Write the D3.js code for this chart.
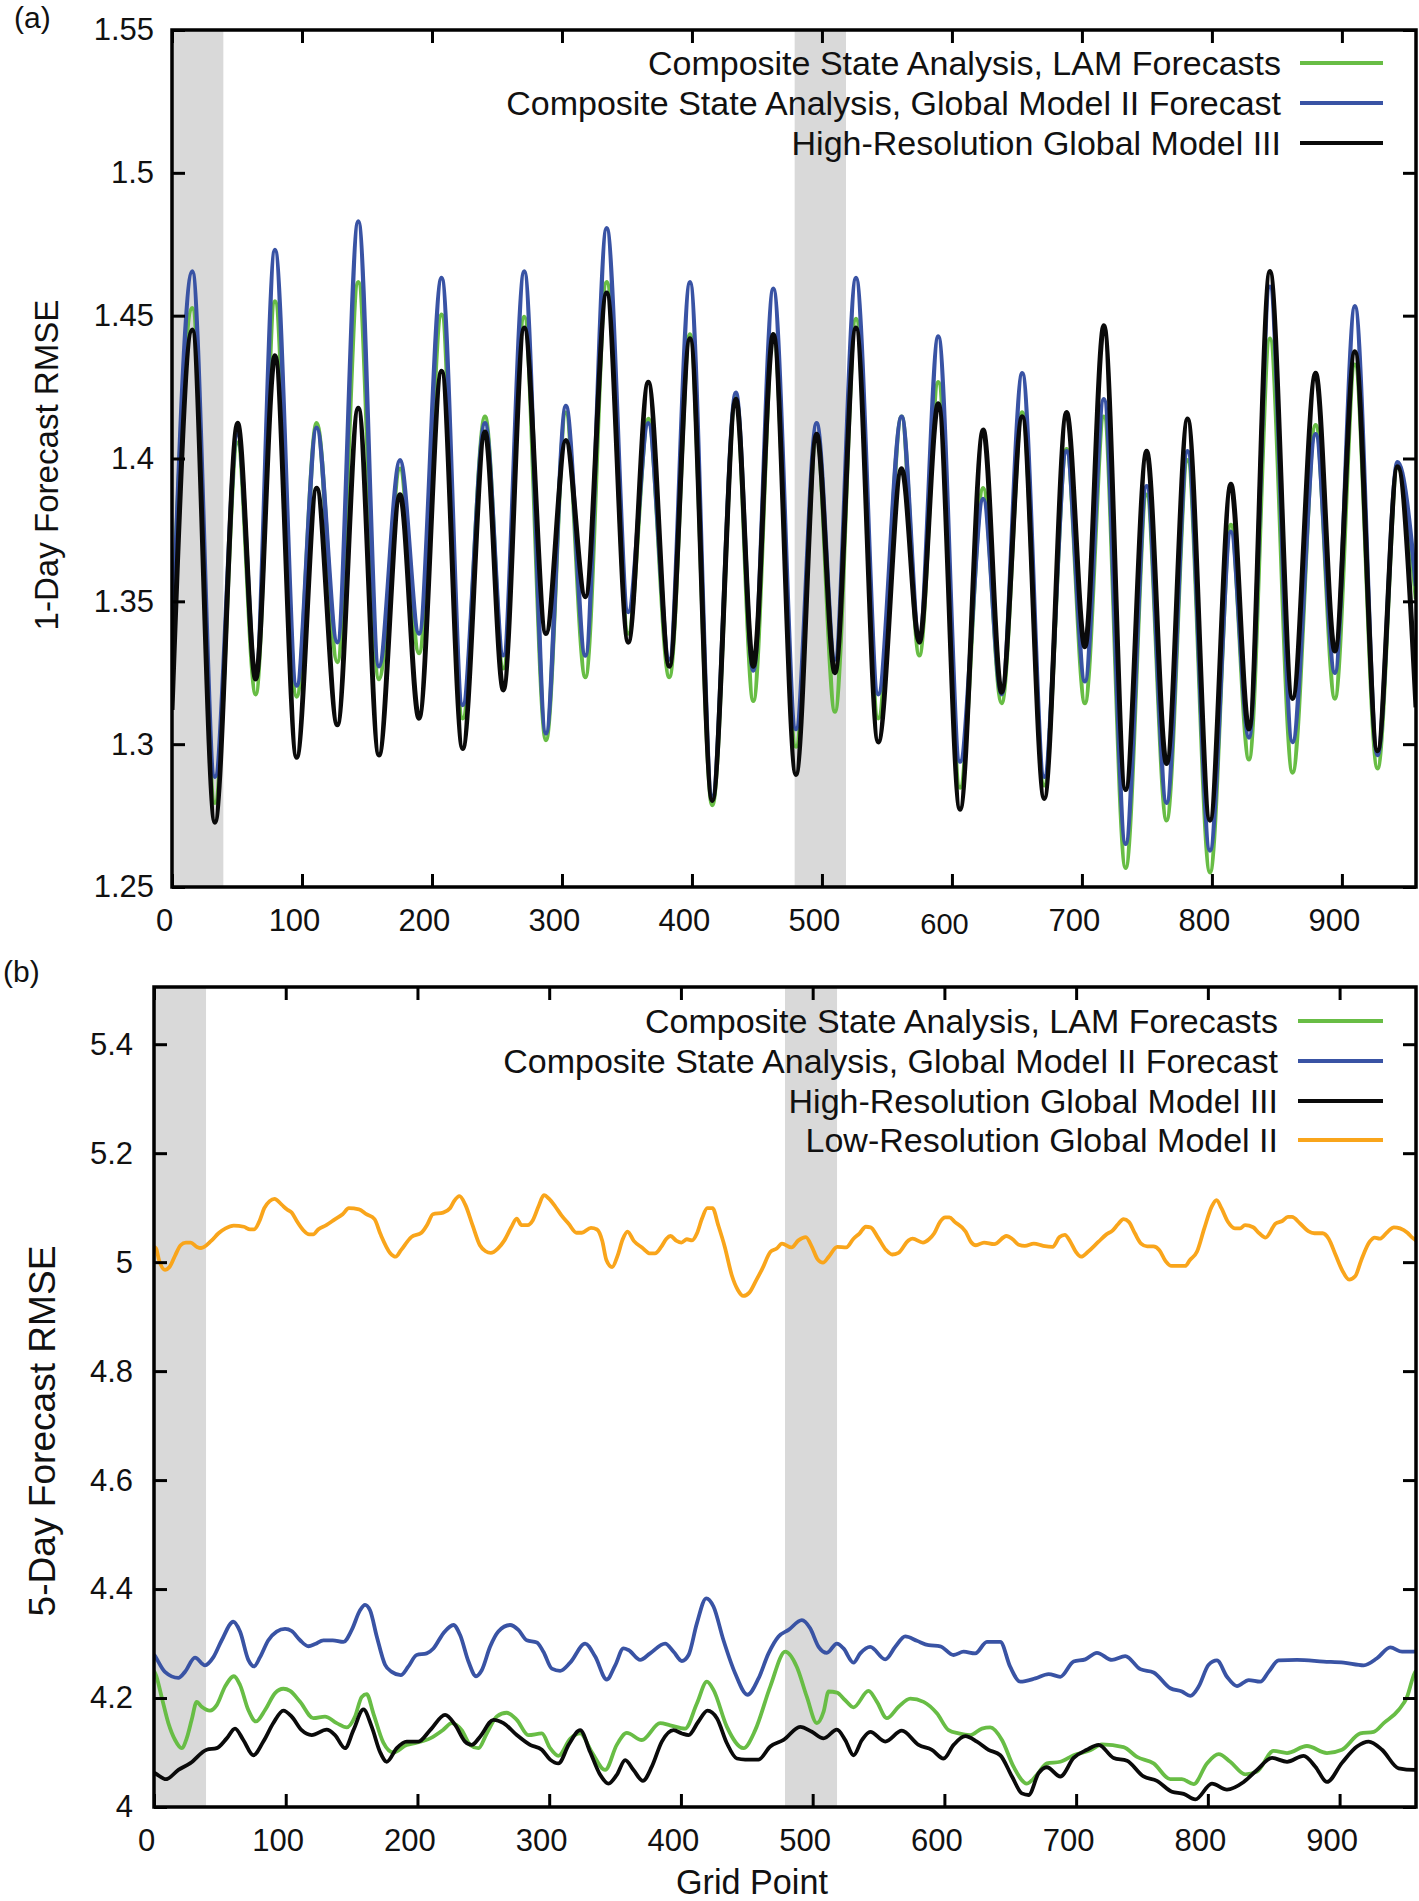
<!DOCTYPE html>
<html><head><meta charset="utf-8">
<script src="https://cdn.jsdelivr.net/npm/d3@7"></script>
<style>
body{margin:0;background:#fff}
svg{display:block}
text{font-family:"Liberation Sans",Arial,Helvetica,sans-serif;fill:#111}
</style>
</head><body>
<svg id="chart" width="1419" height="1901"></svg>
<script>
// ---------------- DATA ----------------
const seriesNamesA = ["Composite State Analysis, LAM Forecasts","Composite State Analysis, Global Model II Forecast","High-Resolution Global Model III"];
const seriesNamesB = ["Composite State Analysis, LAM Forecasts","Composite State Analysis, Global Model II Forecast","High-Resolution Global Model III","Low-Resolution Global Model II"];
const xTicks = [0,100,200,300,400,500,600,700,800,900];
const yTicksA = [1.25,1.3,1.35,1.4,1.45,1.5,1.55];
const yTicksB = [4,4.2,4.4,4.6,4.8,5,5.2,5.4];
const shadedBands = [[0,39.5],[479,518.5]];

// Panel (a): grid point of each turning point, and values of the three series there
const topX   = [0,15.6,33,50.5,64.4,79.2,95.9,111.3,127.2,143.3,159.2,175.4,190,207.4,223.6,240.8,254.9,271,287.7,303,318,334.4,351,366.4,382.6,398.5,415.6,433.8,447.2,462.6,480,495.9,510,526.2,543.3,561.3,574.9,589.5,606.2,624.1,638.2,654.1,671,688.2,702.3,716.9,733.6,749.8,765.1,781.3,798.5,814.6,828.5,844.6,862,879.8,894.6,910,927.4,942.8,957];
const topLAM = [1.335,1.4526,1.2795,1.4055,1.3175,1.455,1.3167,1.4123,1.3288,1.4617,1.3228,1.3964,1.3319,1.4503,1.3091,1.4146,1.3266,1.4495,1.3015,1.416,1.3235,1.4617,1.3387,1.4138,1.3235,1.4434,1.2787,1.4214,1.3152,1.4434,1.2992,1.4078,1.3114,1.4488,1.3091,1.4146,1.3311,1.4267,1.2848,1.3896,1.3144,1.4161,1.2856,1.4032,1.3144,1.4146,1.2567,1.3873,1.2734,1.3994,1.2552,1.3767,1.2947,1.4419,1.2901,1.4116,1.316,1.4328,1.2916,1.397,1.3508];
const topGM2 = [1.33,1.4655,1.2886,1.4085,1.325,1.473,1.3205,1.4108,1.3357,1.483,1.3273,1.3994,1.3387,1.4632,1.3137,1.4123,1.3311,1.4655,1.3038,1.4184,1.331,1.4806,1.3463,1.4123,1.3296,1.4617,1.2818,1.423,1.3258,1.4594,1.3053,1.4123,1.3296,1.4632,1.3175,1.4146,1.3372,1.4427,1.2939,1.3858,1.3175,1.4298,1.2886,1.4025,1.322,1.4207,1.2651,1.3903,1.2795,1.4025,1.2628,1.3744,1.3023,1.4601,1.3008,1.4085,1.325,1.4533,1.2962,1.3987,1.3554];
const topHR3 = [1.312,1.445,1.2727,1.4123,1.3228,1.436,1.2954,1.3896,1.3068,1.4176,1.2962,1.3873,1.3091,1.4305,1.2985,1.4093,1.319,1.4457,1.3387,1.4063,1.3516,1.4579,1.3357,1.4267,1.3273,1.4419,1.2803,1.4207,1.3273,1.4434,1.2894,1.4085,1.325,1.4457,1.3008,1.3964,1.3357,1.4192,1.2772,1.41,1.3182,1.4146,1.281,1.4161,1.3341,1.4465,1.2841,1.4025,1.2932,1.4138,1.2734,1.391,1.3053,1.4655,1.316,1.4298,1.3326,1.4374,1.2977,1.3971,1.3129];

// Panel (b): [grid point, RMSE]
const botLAM = [[0,4.25],[1.5,4.242],[5.8,4.202],[10.9,4.154],[16,4.123],[21,4.108],[24.8,4.126],[28.6,4.16],[32.4,4.193],[36.2,4.184],[42.5,4.177],[47.6,4.187],[53.9,4.221],[60.7,4.24],[65.3,4.224],[71.6,4.178],[77.4,4.157],[84.3,4.178],[91.9,4.209],[98.2,4.217],[103.3,4.213],[110.9,4.193],[121,4.163],[129.8,4.166],[138.7,4.154],[146.3,4.146],[152.6,4.166],[157.7,4.202],[161.5,4.207],[166.5,4.172],[174.1,4.118],[181.7,4.1],[191.8,4.114],[199.4,4.118],[209.6,4.126],[219.7,4.142],[226,4.154],[233.6,4.141],[240,4.114],[246.3,4.108],[252.6,4.135],[260.2,4.166],[267.8,4.173],[275.4,4.16],[284.2,4.132],[294.4,4.135],[300.7,4.108],[307,4.094],[315.9,4.125],[323.5,4.135],[332.3,4.101],[342.5,4.068],[351.3,4.114],[358.9,4.136],[370.3,4.123],[384.2,4.154],[391.8,4.15],[403.2,4.144],[412.1,4.19],[419.7,4.23],[424.7,4.215],[434.9,4.147],[447.5,4.108],[456.4,4.141],[467.8,4.221],[479.2,4.285],[488,4.257],[495.6,4.202],[503.2,4.154],[508.3,4.175],[512.1,4.212],[518.4,4.21],[524.7,4.196],[531,4.183],[542.4,4.213],[548.8,4.193],[556.3,4.163],[565.2,4.184],[574.1,4.199],[584.2,4.193],[594.3,4.172],[603.2,4.141],[610.8,4.135],[619.6,4.132],[628.5,4.144],[634.8,4.146],[643.7,4.123],[652.5,4.074],[662.6,4.043],[670.2,4.059],[677.8,4.08],[688,4.083],[698.1,4.095],[710.7,4.104],[719.6,4.115],[736,4.11],[746.2,4.092],[758.8,4.08],[771.5,4.051],[780.3,4.051],[789.2,4.042],[799.3,4.08],[808.2,4.097],[817,4.083],[828.4,4.06],[837.3,4.065],[849.9,4.103],[860.1,4.099],[875.2,4.112],[890.4,4.099],[901.8,4.105],[915.7,4.135],[925.9,4.138],[933.5,4.154],[944.8,4.178],[951.2,4.202],[956.8,4.245],[958,4.25]];
const botGM2 = [[0,4.28],[0.8,4.277],[8.3,4.248],[18.5,4.237],[23.5,4.248],[31.1,4.274],[38.7,4.26],[45.1,4.275],[51.4,4.306],[60.2,4.34],[65.3,4.322],[71.6,4.27],[75.9,4.258],[80.5,4.275],[86.8,4.306],[93.1,4.322],[99.5,4.327],[104.5,4.323],[110.9,4.306],[117.2,4.295],[122.3,4.299],[128.6,4.306],[135.7,4.306],[143.8,4.303],[150.1,4.325],[156.4,4.361],[160.2,4.371],[164,4.361],[169.1,4.313],[175.4,4.261],[180.5,4.248],[187.3,4.242],[193.1,4.258],[199.4,4.279],[207,4.282],[212.1,4.291],[219.7,4.319],[227.3,4.334],[232.3,4.316],[238.7,4.267],[244.5,4.24],[248.8,4.251],[255.1,4.294],[261.4,4.322],[270.3,4.334],[276.6,4.325],[283,4.306],[290.6,4.302],[295.6,4.285],[302,4.254],[308.3,4.25],[315.9,4.265],[327.3,4.3],[334.9,4.276],[343.7,4.234],[350.1,4.26],[356.4,4.291],[360.2,4.288],[369.1,4.27],[376.6,4.282],[388,4.3],[394.4,4.285],[400.7,4.268],[405.8,4.279],[412.1,4.337],[419.2,4.383],[424.7,4.368],[432.3,4.306],[441.2,4.245],[450.5,4.206],[458.9,4.236],[466.5,4.282],[474.1,4.313],[481.7,4.325],[491.8,4.343],[498.1,4.328],[504.5,4.294],[510.8,4.283],[518.4,4.3],[523.4,4.291],[531,4.265],[536.1,4.282],[543.7,4.294],[555.1,4.271],[562.7,4.294],[570.3,4.313],[579.1,4.305],[588,4.297],[596.8,4.295],[607,4.279],[614.6,4.285],[623.4,4.282],[632.3,4.303],[642.4,4.303],[650,4.257],[657.6,4.23],[669,4.236],[679.1,4.244],[688,4.239],[698.1,4.267],[707,4.271],[715.8,4.283],[727.2,4.27],[737.3,4.277],[748.7,4.253],[758.8,4.247],[771.5,4.218],[780.3,4.212],[786.7,4.204],[793,4.221],[800.6,4.261],[806.9,4.269],[814.5,4.239],[822.1,4.222],[831,4.233],[839.8,4.23],[846.1,4.248],[853.7,4.269],[867.7,4.27],[887.9,4.267],[903.1,4.265],[918.3,4.26],[928.4,4.273],[938.5,4.293],[947.4,4.285],[956.2,4.285],[958,4.285]];
const botHR3 = [[0,4.063],[0.8,4.062],[9.1,4.051],[18.5,4.068],[27.3,4.08],[40,4.105],[47.6,4.108],[55.2,4.126],[61.5,4.144],[67.8,4.123],[75.4,4.095],[83,4.12],[90.6,4.154],[98.2,4.177],[104.5,4.166],[112.1,4.141],[119.7,4.132],[131.1,4.142],[137.4,4.132],[145,4.108],[151.4,4.141],[159,4.179],[165.3,4.147],[171.6,4.101],[176.7,4.083],[184.3,4.108],[191.8,4.12],[200.7,4.12],[209.6,4.141],[221,4.169],[228.5,4.151],[236.1,4.12],[241.2,4.114],[247.5,4.129],[257.7,4.16],[265.3,4.154],[275.4,4.132],[285.5,4.114],[294.4,4.105],[300.7,4.087],[307,4.08],[315,4.115],[323.5,4.141],[331.1,4.101],[338.7,4.059],[345,4.043],[351.3,4.059],[357.7,4.086],[364,4.068],[371.1,4.048],[377.9,4.074],[385.5,4.12],[394.4,4.141],[400.7,4.135],[405.8,4.132],[413.3,4.157],[420.2,4.177],[427.3,4.163],[434.9,4.117],[442.5,4.089],[448.8,4.087],[458.9,4.087],[467.8,4.111],[477.9,4.123],[490.5,4.147],[499.4,4.138],[508.3,4.126],[518.4,4.142],[524.7,4.123],[531,4.095],[537.4,4.123],[543.7,4.138],[555.1,4.12],[567.7,4.14],[580.4,4.114],[590.5,4.105],[599.4,4.089],[607,4.114],[615.8,4.13],[624.7,4.12],[633.5,4.105],[642.4,4.095],[651.3,4.056],[658.8,4.025],[663.9,4.022],[671.5,4.062],[677.8,4.073],[688,4.056],[698.1,4.09],[708.2,4.105],[717.1,4.114],[728.5,4.09],[738.6,4.085],[751.2,4.056],[761.3,4.048],[772.7,4.028],[781.6,4.024],[790.5,4.014],[803.1,4.043],[814.5,4.032],[827.2,4.046],[837.3,4.068],[848.7,4.09],[860.1,4.083],[872.7,4.094],[881.6,4.074],[890.4,4.046],[901.8,4.081],[913.2,4.111],[922.1,4.12],[932.2,4.105],[944.8,4.071],[956.8,4.068],[958,4.068]];
const botLowRes = [[0,5.028],[1.6,5.025],[3.8,5.004],[8.4,4.986],[11.8,4.991],[16.2,5.013],[20.2,5.031],[24.2,5.036],[27.9,5.036],[32.6,5.028],[35.7,5.026],[43.4,5.039],[49,5.053],[54.3,5.062],[60.5,5.067],[68.2,5.065],[72.9,5.06],[76,5.06],[80,5.075],[83.7,5.099],[87.8,5.112],[91.5,5.116],[96.7,5.106],[100.8,5.097],[104.5,5.091],[108.5,5.075],[113.2,5.059],[117.8,5.051],[120.9,5.051],[124.6,5.06],[130.8,5.068],[137,5.078],[143.2,5.088],[147.9,5.099],[155.6,5.097],[161.2,5.088],[167.4,5.079],[172,5.051],[179.2,5.017],[183.5,5.01],[187.5,5.022],[195.3,5.046],[203,5.054],[207.7,5.07],[211.7,5.088],[219.5,5.091],[224.7,5.099],[227.8,5.112],[231.9,5.121],[236.2,5.106],[241.8,5.068],[247.4,5.031],[251.7,5.02],[255.7,5.017],[261,5.025],[266,5.04],[271.2,5.064],[275.3,5.08],[279,5.068],[283.6,5.068],[287.6,5.077],[292,5.103],[296,5.123],[300,5.116],[304.4,5.103],[309.3,5.086],[314.6,5.071],[320.8,5.054],[324.8,5.054],[331.7,5.063],[336.3,5.06],[340.3,5.039],[343.4,5.004],[347.8,4.991],[351.8,5.011],[355.8,5.042],[359.5,5.056],[364.2,5.039],[370.4,5.027],[376.6,5.016],[380.3,5.016],[385,5.028],[389,5.043],[392.1,5.048],[396.7,5.039],[400.4,5.036],[404.5,5.042],[408.5,5.04],[412.2,5.053],[416,5.08],[420,5.099],[424,5.099],[428.3,5.068],[433.3,5.028],[438.6,4.976],[443.2,4.949],[447.3,4.938],[451.9,4.944],[457.2,4.967],[461.8,4.988],[468,5.019],[472.7,5.025],[476.7,5.034],[484,5.027],[489.2,5.04],[494.8,5.046],[499.4,5.028],[503.8,5.005],[507.8,4.999],[512.5,5.011],[518.6,5.028],[525.5,5.027],[531,5.043],[535.7,5.053],[540.3,5.065],[544,5.064],[549.6,5.045],[555.8,5.022],[560.4,5.014],[565.1,5.017],[572.8,5.04],[575.9,5.043],[583.7,5.036],[588.3,5.042],[592.3,5.053],[596.7,5.074],[600.7,5.082],[603.8,5.082],[607.8,5.074],[616.2,5.056],[620.2,5.037],[623.9,5.031],[630.1,5.036],[637.8,5.033],[647.1,5.048],[651.8,5.042],[656.4,5.032],[661.1,5.03],[667.9,5.034],[675,5.03],[682.1,5.028],[687.4,5.046],[691.4,5.05],[695.7,5.037],[699.8,5.019],[703.8,5.01],[709,5.019],[716.8,5.037],[723,5.051],[727.6,5.058],[731.6,5.069],[736,5.079],[740,5.074],[744.6,5.053],[749.3,5.034],[753.9,5.029],[758.6,5.029],[763.2,5.022],[767.9,5.002],[772.5,4.993],[777.2,4.993],[782.7,4.993],[786.4,5.004],[791.7,5.019],[797.3,5.062],[802.9,5.102],[806.6,5.114],[810.3,5.099],[815.2,5.074],[820.5,5.062],[824.5,5.062],[828.2,5.068],[834.4,5.064],[839,5.053],[843.7,5.045],[851.5,5.071],[856.1,5.075],[860.8,5.083],[863.8,5.083],[870,5.071],[876.2,5.057],[880.9,5.053],[887.1,5.053],[891.7,5.043],[897,5.013],[902,4.985],[907.2,4.968],[911.8,4.974],[916.5,5.004],[922.7,5.037],[926.7,5.045],[930.4,5.043],[936.6,5.056],[941.2,5.064],[945.9,5.062],[951.5,5.054],[955.2,5.045],[958,5.04]];

// ---------------- STYLE ----------------
const GREEN = "#68bd45", BLUE = "#3953a4", BLACK = "#0a0a0a", ORANGE = "#f9a51b", BAND = "#d9d9d9";
const svg = d3.select("#chart");

function panel(cfg) {
  const g = svg.append("g");
  const x = d3.scaleLinear().domain(cfg.xDomain).range([cfg.left, cfg.right]);
  const y = d3.scaleLinear().domain(cfg.yDomain).range([cfg.bottom, cfg.top]);
  const clipId = "clip" + cfg.id;
  svg.append("clipPath").attr("id", clipId).append("rect")
    .attr("x", cfg.left).attr("y", cfg.top).attr("width", cfg.right - cfg.left).attr("height", cfg.bottom - cfg.top);

  g.append("g").attr("clip-path", `url(#${clipId})`).selectAll("rect").data(shadedBands).join("rect")
    .attr("x", d => x(d[0])).attr("width", d => x(d[1]) - x(d[0]))
    .attr("y", cfg.top).attr("height", cfg.bottom - cfg.top).attr("fill", BAND);

  const lines = g.append("g").attr("clip-path", `url(#${clipId})`);
  cfg.series.forEach(s => {
    const line = d3.line().x(d => x(d[0])).y(d => y(d[1])).curve(d3.curveMonotoneX);
    lines.append("path").datum(s.data).attr("d", line).attr("fill", "none")
      .attr("stroke", s.color).attr("stroke-width", s.width || cfg.lineWidth).attr("stroke-linejoin", "round");
  });

  const fmt = d => String(+d.toFixed(2));
  const TS = 13;
  const axB = g.append("g").attr("transform", `translate(0,${cfg.bottom})`)
    .call(d3.axisBottom(x).tickValues(xTicks).tickSizeInner(-TS).tickSizeOuter(0).tickPadding(22).tickFormat(fmt));
  const axT = g.append("g").attr("transform", `translate(0,${cfg.top})`)
    .call(d3.axisTop(x).tickValues(xTicks).tickSizeInner(-TS).tickSizeOuter(0).tickFormat(""));
  const axL = g.append("g").attr("transform", `translate(${cfg.left},0)`)
    .call(d3.axisLeft(y).tickValues(cfg.yTicks).tickSizeInner(-TS).tickSizeOuter(0).tickPadding(cfg.yPad).tickFormat(fmt));
  const axR = g.append("g").attr("transform", `translate(${cfg.right},0)`)
    .call(d3.axisRight(y).tickValues(cfg.yTicks).tickSizeInner(-TS).tickSizeOuter(0).tickFormat(""));
  [axB, axT, axL, axR].forEach(a => {
    a.select(".domain").remove();
    a.selectAll(".tick line").attr("stroke", "#000").attr("stroke-width", 3);
    a.selectAll("text").attr("font-size", 31).attr("font-family", '"Liberation Sans",Arial,sans-serif').attr("fill", "#111");
  });
  axB.selectAll(".tick text").attr("dx", -8);
  if (cfg.oddTick !== undefined) {
    axB.selectAll(".tick text").filter(d => d === cfg.oddTick).attr("y", 26).attr("font-size", 29);
  }
  g.append("rect").attr("x", cfg.left).attr("y", cfg.top)
    .attr("width", cfg.right - cfg.left).attr("height", cfg.bottom - cfg.top)
    .attr("fill", "none").attr("stroke", "#000").attr("stroke-width", 3.5);

  // legend
  const leg = g.append("g");
  const texts = [];
  cfg.series.forEach((s, i) => {
    const yy = cfg.legendY[i];
    texts.push(leg.append("text").attr("x", cfg.legendTextRight).attr("y", yy).attr("dy", "0.35em")
      .attr("text-anchor", "end").attr("font-size", 30).text(s.name));
    leg.append("line").attr("x1", cfg.legendLine[0]).attr("x2", cfg.legendLine[1])
      .attr("y1", yy).attr("y2", yy).attr("stroke", s.color).attr("stroke-width", 4);
  });
  // fit legend font so that the longest entry matches the picture
  const w = texts[1].node().getComputedTextLength();
  const fs = 30 * 775 / w;
  texts.forEach(t => t.attr("font-size", fs));

  // axis title
  const yt = g.append("text").attr("transform", `translate(${cfg.yTitle[0]},${cfg.yTitle[1]}) rotate(-90)`)
    .attr("text-anchor", "middle").attr("dy", "0.35em").attr("font-size", 30).text(cfg.yLabel);
  const tw = yt.node().getComputedTextLength();
  yt.attr("font-size", 30 * cfg.yTitleLen / tw);

  svg.append("text").attr("x", cfg.tag[0]).attr("y", cfg.tag[1]).attr("dy", "0.35em")
    .attr("font-size", 30).text(cfg.tagText);
  return {x, y};
}

const zipTop = vals => topX.map((xv, i) => [xv, vals[i]]);

panel({
  id: "a", left: 172, right: 1416, top: 30, bottom: 887,
  xDomain: [0, 957], yDomain: [1.25, 1.55], yTicks: yTicksA, yPad: 18,
  lineWidth: 4.5, oddTick: 600,
  series: [
    {name: seriesNamesA[0], color: GREEN, data: zipTop(topLAM)},
    {name: seriesNamesA[1], color: BLUE, data: zipTop(topGM2)},
    {name: seriesNamesA[2], color: BLACK, data: zipTop(topHR3), width: 5}
  ],
  legendY: [63, 103, 143], legendTextRight: 1281, legendLine: [1300, 1383],
  yLabel: "1-Day Forecast RMSE", yTitle: [46, 465], yTitleLen: 331,
  tag: [14, 17], tagText: "(a)"
});

panel({
  id: "b", left: 154, right: 1416, top: 987, bottom: 1807,
  xDomain: [0, 958], yDomain: [4, 5.505], yTicks: yTicksB, yPad: 21,
  lineWidth: 3.8,
  series: [
    {name: seriesNamesB[0], color: GREEN, data: botLAM},
    {name: seriesNamesB[1], color: BLUE, data: botGM2},
    {name: seriesNamesB[2], color: BLACK, data: botHR3},
    {name: seriesNamesB[3], color: ORANGE, data: botLowRes}
  ],
  legendY: [1021, 1061, 1101, 1140], legendTextRight: 1278, legendLine: [1298, 1383],
  yLabel: "5-Day Forecast RMSE", yTitle: [42, 1431], yTitleLen: 371,
  tag: [3, 971], tagText: "(b)"
});

const gp = svg.append("text").attr("x", 752).attr("y", 1882).attr("dy", "0.35em")
  .attr("text-anchor", "middle").attr("font-size", 30).text("Grid Point");
const gw = gp.node().getComputedTextLength();
gp.attr("font-size", 30 * 152 / gw);
</script>
</body></html>
